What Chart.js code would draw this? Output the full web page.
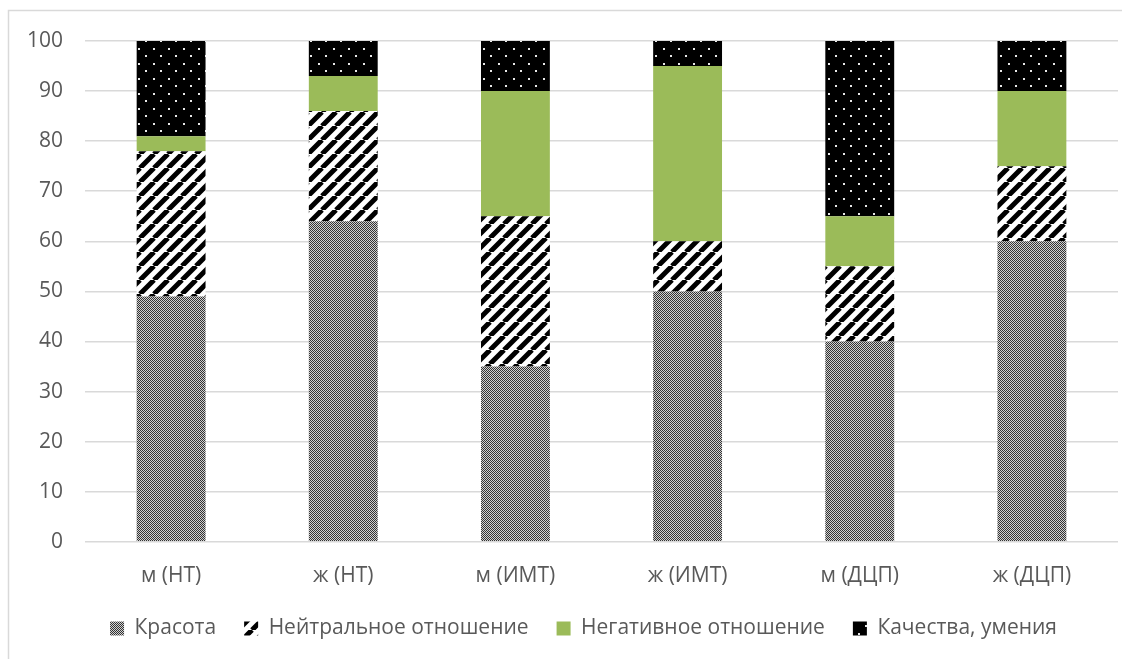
<!DOCTYPE html>
<html>
<head>
<meta charset="utf-8">
<script src="https://cdn.jsdelivr.net/npm/chart.js@4"></script>
<style>
  body { margin: 0; background: #fff; }
  #wrap { width: 1131px; height: 659px; }
</style>
</head>
<body>
<div id="wrap"><canvas id="chart" width="1131" height="659"></canvas></div>
<script>
var categories = ["м (НТ)", "ж (НТ)", "м (ИМТ)", "ж (ИМТ)", "м (ДЦП)", "ж (ДЦП)"];
var beauty = [49, 64, 35, 50, 40, 60];
var neutral = [29, 22, 30, 10, 15, 15];
var negative = [3, 7, 25, 35, 10, 15];
var qualities = [19, 7, 10, 5, 35, 10];
var yTicks = [0, 10, 20, 30, 40, 50, 60, 70, 80, 90, 100];

var makePattern = function(w, h, draw) {
  var c = document.createElement('canvas');
  c.width = w;
  c.height = h;
  var g = c.getContext('2d');
  draw(g, w, h);
  return document.getElementById('chart').getContext('2d').createPattern(c, 'repeat');
}

// fine checker
var checker = makePattern(2, 2, function(g) {
  g.fillStyle = '#d0d0d0';
  g.fillRect(0, 0, 2, 2);
  g.fillStyle = '#333';
  g.fillRect(0, 0, 1, 1);
  g.fillRect(1, 1, 1, 1);
});

// diagonal stripes "/"
var stripes = makePattern(14, 14, function(g, w, h) {
  g.fillStyle = '#fff';
  g.fillRect(0, 0, w, h);
  g.strokeStyle = '#000';
  g.lineWidth = 5;
  g.beginPath();
  for (var k = -1; k <= 1; k++) {
    g.moveTo(k * w, h);
    g.lineTo(k * w + w, 0);
  }
  g.stroke();
});

// black with white dots
var dots = makePattern(15, 15, function(g) {
  g.fillStyle = '#000';
  g.fillRect(0, 0, 15, 15);
  g.fillStyle = '#e8e8e8';
  g.fillRect(3, 3, 2, 2);
  g.fillRect(10, 10, 2, 2);
});

var frame = {
  id: 'frame',
  beforeDraw: function(chart) {
    var ctx = chart.ctx;
    ctx.save();
    ctx.fillStyle = '#fff';
    ctx.fillRect(0, 0, chart.width, chart.height);
    ctx.strokeStyle = '#d9d9d9';
    ctx.lineWidth = 1.5;
    ctx.beginPath();
    ctx.moveTo(8.5, chart.height);
    ctx.lineTo(8.5, 10.5);
    ctx.lineTo(1122, 10.5);
    ctx.stroke();
    ctx.restore();
  }
};

// legend sits closer to the axis labels and a bit right, like the original
var legendShift = {
  id: 'legendShift',
  afterInit: function(chart) {
    var lg = chart.legend;
    var fit = lg.fit;
    lg.fit = function() {
      fit.call(this);
      this.height -= 13;
    };
  },
  afterLayout: function(chart) {
    var lg = chart.legend;
    lg.top -= 13;
    lg.left += 22;
    lg.right += 22;
  }
};

var font = { family: "'Open Sans', 'DejaVu Sans', sans-serif", size: 21 };

new Chart(document.getElementById('chart'), {
  type: 'bar',
  data: {
    labels: categories,
    datasets: [
      { label: 'Красота', data: beauty, backgroundColor: checker },
      { label: 'Нейтральное отношение', data: neutral, backgroundColor: stripes },
      { label: 'Негативное отношение', data: negative, backgroundColor: '#9bbb59' },
      { label: 'Качества, умения', data: qualities, backgroundColor: dots }
    ]
  },
  options: {
    responsive: false,
    animation: false,
    categoryPercentage: 1,
    barPercentage: 0.4,
    layout: { padding: { left: 5, right: 13, top: 41, bottom: 10 } },
    plugins: {
      tooltip: { enabled: false },
      legend: {
        position: 'bottom',
        labels: {
          color: '#595959',
          font: font,
          boxWidth: 14,
          boxHeight: 14,
          padding: 28
        }
      }
    },
    scales: {
      x: {
        stacked: true,
        grid: { display: false },
        border: { display: false },
        ticks: { color: '#595959', font: font, padding: 14 }
      },
      y: {
        stacked: true,
        min: 0,
        max: 100,
        afterBuildTicks: function(axis) {
          axis.ticks = yTicks.map(function(v) { return { value: v }; });
        },
        grid: { color: '#d9d9d9', lineWidth: 1.5, drawTicks: false },
        border: { display: false },
        ticks: { color: '#595959', font: font, padding: 22 }
      }
    }
  },
  plugins: [frame, legendShift]
});
</script>
</body>
</html>
